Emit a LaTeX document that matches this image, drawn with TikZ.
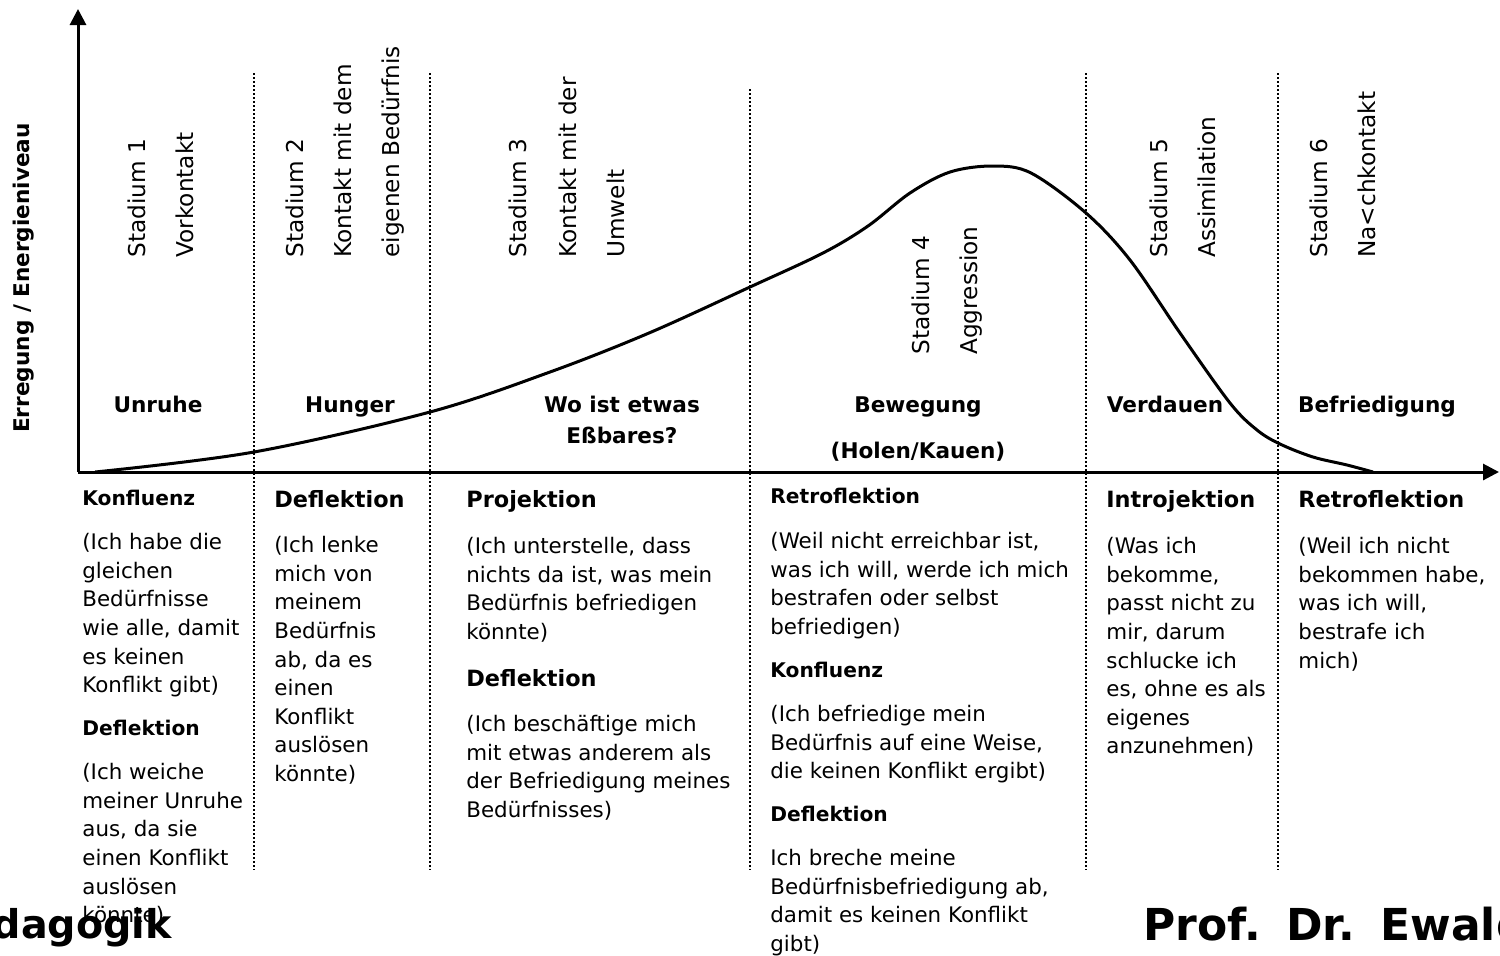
\documentclass[tikz,border=0pt]{standalone}
\usepackage{fontspec}
\setmainfont{DejaVu Sans}
\usetikzlibrary{arrows.meta}
\begin{document}
\begin{tikzpicture}[x=0.5pt,y=-0.5pt,
  axis/.style={line width=1.5pt,-{Triangle[length=8pt,width=8pt]}},
  curve/.style={line width=1.5pt},
  sep/.style={line width=1pt,dash pattern=on 1pt off 1pt},
  vlab/.style={rotate=90,anchor=base west,inner sep=0pt,font=\fontsize{11.6}{14}\selectfont},
  ylab/.style={rotate=90,anchor=center,inner sep=0pt,font=\bfseries\fontsize{10.8}{13}\selectfont},
  phase/.style={anchor=base,inner sep=0pt,font=\bfseries\fontsize{10.8}{13}\selectfont},
  headS/.style={anchor=base west,inner sep=0pt,font=\bfseries\fontsize{10.1}{13}\selectfont},
  headL/.style={anchor=base west,inner sep=0pt,font=\bfseries\fontsize{11.2}{13}\selectfont},
  para/.style={anchor=north west,inner sep=0pt,align=left,font=\fontsize{10.7}{14.3}\selectfont,execute at begin node=\strut},
  foot/.style={anchor=base west,inner sep=0pt,font=\bfseries\fontsize{22}{24}\selectfont}]
\useasboundingbox (0,0) rectangle (1500,955);
\clip (0,0) rectangle (1500,955);
% axes
\coordinate (O) at (78,472);
\coordinate (ytip) at (78,9);
\coordinate (xtip) at (1499,472);
\draw[axis] (O) -- (ytip);
\draw[axis] (O) -- (xtip);
% separators
\foreach \n/\x/\t in {s1/254/73,s2/430/73,s3/750/89,s4/1086/73,s5/1278/73}{
  \coordinate (\n t) at (\x,\t);
  \coordinate (\n b) at (\x,870);
  \draw[sep] (\n t) -- (\n b);
}
% curve
\draw[curve] plot[smooth,tension=0.55] coordinates {(95,472) (254,452) (430,412) (550,372) (649,333) (750,287) (823,253) (868,226) (910,193) (950,172) (993,166) (1031,173) (1086,213) (1130,260) (1180,333) (1230,403) (1257,430) (1280,444) (1313,457) (1347,465) (1373,472)};
% y label
\node[ylab] (yl) at (24,278) {Erregung / Energieniveau};
% vertical stage labels
\node[vlab] (v1a) at (145,258) {Stadium 1};
\node[vlab] (v1b) at (193,258) {Vorkontakt};
\node[vlab] (v2a) at (303,258) {Stadium 2};
\node[vlab] (v2b) at (351,258) {Kontakt mit dem};
\node[vlab] (v2c) at (399,258) {eigenen Bedürfnis};
\node[vlab] (v3a) at (526,258) {Stadium 3};
\node[vlab] (v3b) at (576,258) {Kontakt mit der};
\node[vlab] (v3c) at (624,258) {Umwelt};
\node[vlab] (v4a) at (929,355) {Stadium 4};
\node[vlab] (v4b) at (977,355) {Aggression};
\node[vlab] (v5a) at (1167,258) {Stadium 5};
\node[vlab] (v5b) at (1215,258) {Assimilation};
\node[vlab] (v6a) at (1327,258) {Stadium 6};
\node[vlab] (v6b) at (1375,258) {Na<chkontakt};
% phase labels
\node[phase] (p1) at (158,412) {Unruhe};
\node[phase] (p2) at (350,412) {Hunger};
\node[phase] (p3a) at (622,412) {Wo ist etwas};
\node[phase] (p3b) at (622,443) {Eßbares?};
\node[phase] (p4a) at (918,412) {Bewegung};
\node[phase] (p4b) at (918,458) {(Holen/Kauen)};
\node[phase] (p5) at (1165,412) {Verdauen};
\node[phase] (p6) at (1377,412) {Befriedigung};
% column 1
\node[headS] (c1h1) at (82,505) {Konfluenz};
\node[para] (c1t1) at (82,533) {(Ich habe die\\gleichen\\Bedürfnisse\\wie alle, damit\\es keinen\\Konflikt gibt)};
\node[headS] (c1h2) at (82,735) {Deflektion};
\node[para] (c1t2) at (82,763) {(Ich weiche\\meiner Unruhe\\aus, da sie\\einen Konflikt\\auslösen\\könnte)};
% column 2
\node[headL] (c2h1) at (274,507) {Deflektion};
\node[para] (c2t1) at (274,536) {(Ich lenke\\mich von\\meinem\\Bedürfnis\\ab, da es\\einen\\Konflikt\\auslösen\\könnte)};
% column 3
\node[headL] (c3h1) at (466,507) {Projektion};
\node[para] (c3t1) at (466,537) {(Ich unterstelle, dass\\nichts da ist, was mein\\Bedürfnis befriedigen\\könnte)};
\node[headL] (c3h2) at (466,686) {Deflektion};
\node[para] (c3t2) at (466,715) {(Ich beschäftige mich\\mit etwas anderem als\\der Befriedigung meines\\Bedürfnisses)};
% column 4
\node[headS] (c4h1) at (770,503) {Retroflektion};
\node[para] (c4t1) at (770,532) {(Weil nicht erreichbar ist,\\was ich will, werde ich mich\\bestrafen oder selbst\\befriedigen)};
\node[headS] (c4h2) at (770,677) {Konfluenz};
\node[para] (c4t2) at (770,705) {(Ich befriedige mein\\Bedürfnis auf eine Weise,\\die keinen Konflikt ergibt)};
\node[headS] (c4h3) at (770,821) {Deflektion};
\node[para] (c4t3) at (770,849) {Ich breche meine\\Bedürfnisbefriedigung ab,\\damit es keinen Konflikt\\gibt)};
% column 5
\node[headL] (c5h1) at (1106,507) {Introjektion};
\node[para] (c5t1) at (1106,537) {(Was ich\\bekomme,\\passt nicht zu\\mir, darum\\schlucke ich\\es, ohne es als\\eigenes\\anzunehmen)};
% column 6
\node[headL] (c6h1) at (1298,507) {Retroflektion};
\node[para] (c6t1) at (1298,537) {(Weil ich nicht\\bekommen habe,\\was ich will,\\bestrafe ich\\mich)};
% footer
\node[foot,anchor=base east,font=\bfseries\fontsize{19.8}{24}\selectfont] (f1) at (172,938) {Pädagogik};
\node[foot] (f2) at (1143,940) {Prof.\hspace{2.5pt} Dr.\hspace{2.5pt} Ewald};
\end{tikzpicture}
\end{document}
